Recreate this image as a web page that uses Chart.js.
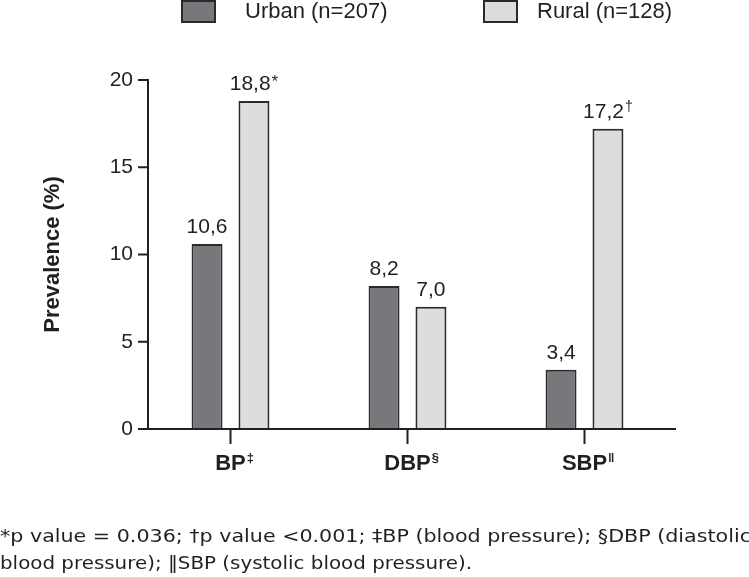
<!DOCTYPE html>
<html><head><meta charset="utf-8">
<script src="https://cdn.jsdelivr.net/npm/chart.js@4"></script>
<style>
html,body{margin:0;padding:0;background:#fff;}
#wrap{position:relative;width:749px;height:577px;overflow:hidden;background:#fff;}
#c{position:absolute;left:0;top:0;}
#note{position:absolute;left:0;top:523px;font-family:"DejaVu Sans";font-size:17px;line-height:27px;color:#231f20;white-space:nowrap;}
#note div{transform-origin:0 0;}
</style></head>
<body><div id="wrap"><canvas id="c" width="749" height="577"></canvas><div id="note"></div></div>
<script>
const categories = ['BP', 'DBP', 'SBP'];
const categoryMarks = ['\u2021', '\u00A7', '\u2016'];
const seriesLabels = ['Urban (n=207)', 'Rural (n=128)'];
const urbanValues = [10.6, 8.2, 3.4];
const ruralValues = [18.8, 7.0, 17.2];
const urbanMarks = ['', '', ''];
const ruralMarks = ['*', '', '\u2020'];
const yMin = 0, yMax = 20, yStep = 5;
const yTitle = 'Prevalence (%)';
const noteLines = [
  '*p value = 0.036; \u2020p value <0.001; \u2021BP (blood pressure); \u00A7DBP (diastolic',
  'blood pressure); \u2016SBP (systolic blood pressure).'
];

const INK = '#231f20';
const FONT = 'Liberation Sans, Arial, sans-serif';
const fills = ['#77787b', '#dcddde'];
const marks = [urbanMarks, ruralMarks];

// footnote
const note = document.getElementById('note');
const lineWidths = [751, 472];
noteLines.forEach((t, i) => {
  const d = document.createElement('div');
  const s = document.createElement('span');
  s.textContent = t; d.appendChild(s); note.appendChild(d);
  const w = s.getBoundingClientRect().width;
  d.style.transform = 'scaleX(' + (lineWidths[i] / w) + ')';
});

const fmt = v => v.toFixed(1).replace('.', ',');

const deco = {
  id: 'deco',
  afterDatasetsDraw(chart) {
    const ctx = chart.ctx, ca = chart.chartArea;
    const xs = chart.scales.x, ys = chart.scales.y;
    const axX = ca.left + 6;
    const y0 = ys.getPixelForValue(yMin), yTop = ys.getPixelForValue(yMax);
    ctx.save();
    ctx.strokeStyle = INK; ctx.lineWidth = 2; ctx.lineCap = 'butt';
    ctx.beginPath();
    ctx.moveTo(axX, yTop - 1); ctx.lineTo(axX, y0);
    for (let v = yMin; v <= yMax; v += yStep) {
      const py = ys.getPixelForValue(v);
      ctx.moveTo(axX - 10, py); ctx.lineTo(axX, py);
    }
    ctx.moveTo(axX - 10, y0); ctx.lineTo(ca.right + 3, y0);
    categories.forEach((c, i) => {
      const px = xs.getPixelForValue(i);
      ctx.moveTo(px, y0); ctx.lineTo(px, y0 + 15);
    });
    ctx.stroke();

    // x category labels
    ctx.fillStyle = INK;
    ctx.textBaseline = 'alphabetic';
    categories.forEach((c, i) => {
      const px = xs.getPixelForValue(i);
      ctx.font = 'bold 22px ' + FONT;
      const w = ctx.measureText(c).width;
      ctx.textAlign = 'left';
      ctx.fillText(c, px - w / 2, 470);
      ctx.font = 'bold 13px ' + FONT;
      ctx.fillText(categoryMarks[i], px + w / 2 + 1, 462);
    });

    // value labels
    chart.data.datasets.forEach((ds, di) => {
      const meta = chart.getDatasetMeta(di);
      meta.data.forEach((bar, i) => {
        const txt = fmt(ds.data[i]);
        const sup = marks[di][i];
        const supStar = sup === '*';
        const supFont = (supStar ? '17px ' : '14px ') + FONT;
        ctx.font = '21px ' + FONT;
        const w = ctx.measureText(txt).width;
        ctx.font = supFont;
        const ws = sup ? ctx.measureText(sup).width + 1 : 0;
        const x0 = bar.x - (w + ws) / 2;
        const by = bar.y - 11;
        ctx.font = '21px ' + FONT;
        ctx.textAlign = 'left';
        ctx.fillText(txt, x0, by);
        if (sup) { ctx.font = supFont; ctx.fillText(sup, x0 + w + 1, by - (supStar ? 3 : 7)); }
      });
    });

    // legend
    const legX = [182, 484], legT = [245, 537];
    chart.data.datasets.forEach((ds, di) => {
      ctx.fillStyle = fills[di];
      ctx.fillRect(legX[di], 1, 33, 21);
      ctx.strokeStyle = '#2a2a2a'; ctx.lineWidth = 2;
      ctx.strokeRect(legX[di], 1, 33, 21);
      ctx.fillStyle = INK;
      ctx.font = '22px ' + FONT;
      ctx.textBaseline = 'middle';
      ctx.fillText(ds.label, legT[di], 12);
    });
    ctx.restore();
  }
};

new Chart(document.getElementById('c'), {
  type: 'bar',
  data: {
    labels: categories,
    datasets: [
      { label: seriesLabels[0], data: urbanValues, backgroundColor: fills[0], borderColor: '#2a2a2a', borderWidth: 2, barPercentage: 0.66, categoryPercentage: 0.53 },
      { label: seriesLabels[1], data: ruralValues, backgroundColor: fills[1], borderColor: '#2a2a2a', borderWidth: 2, barPercentage: 0.66, categoryPercentage: 0.53 }
    ]
  },
  options: {
    responsive: false, animation: false, devicePixelRatio: 1,
    layout: { padding: { top: 80, right: 76, bottom: 0, left: 0 } },
    plugins: { legend: { display: false }, tooltip: { enabled: false } },
    scales: {
      x: { grid: { display: false }, border: { display: false }, ticks: { display: false },
           afterFit(s) { s.height = 148; } },
      y: { min: yMin, max: yMax,
           ticks: { stepSize: yStep, font: { family: FONT, size: 21 }, color: INK, padding: 0 },
           grid: { display: true, drawOnChartArea: false, drawTicks: true, tickLength: 9, color: 'rgba(0,0,0,0)' },
           border: { display: false },
           title: { display: true, text: yTitle, font: { family: FONT, size: 22, weight: 'bold' }, color: INK, padding: { top: 40, bottom: 0 } },
           afterFit(s) { s.width = 142; } }
    }
  },
  plugins: [deco]
});
</script>
</body></html>
